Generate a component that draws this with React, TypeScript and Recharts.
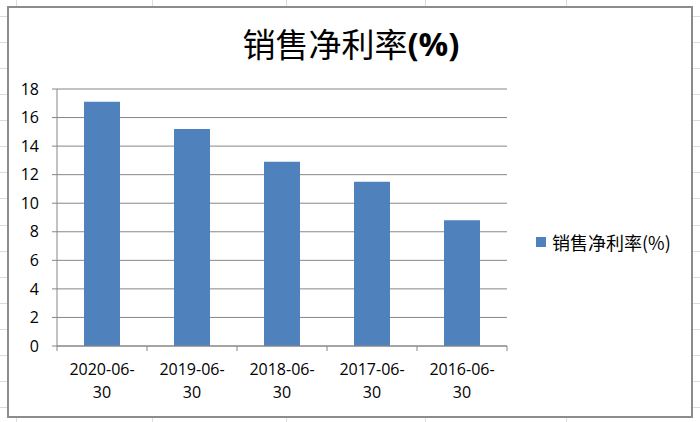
import React from 'react';
import { BarChart, Bar, XAxis, YAxis, CartesianGrid, Legend } from 'recharts';

const categories = ['2020-06-30', '2019-06-30', '2018-06-30', '2017-06-30', '2016-06-30'];
const values = [17.1, 15.2, 12.9, 11.5, 8.8];
const yTicks = [0, 2, 4, 6, 8, 10, 12, 14, 16, 18];
const seriesName = '销售净利率(%)';
const titleMain = '销售净利率';
const titleSuffix = '(%)';

const data = categories.map((c, i) => ({ date: c, value: values[i] }));

const sheetRows = Array.from({ length: 16 }, (_, i) => 16 + i * 26.07);
const sheetCols = [15.6, 152, 286, 425, 566];

const LATIN = '"Open Sans", "Noto Sans CJK SC", sans-serif';
const CJK = '"Noto Sans CJK SC", "Open Sans", sans-serif';

const XTick = (props: any) => {
  const { x, y, payload, index, visibleTicksCount, width } = props;
  const half = payload && typeof payload.offset === 'number' && payload.offset > 0
    ? payload.offset
    : width / visibleTicksCount / 2;
  const s: string = String(payload.value);
  const cut = s.lastIndexOf('-');
  const l1 = s.slice(0, cut + 1);
  const l2 = s.slice(cut + 1);
  return (
    <g transform={`translate(${x},${y})`}>
      <line x1={-half} y1={0} x2={-half} y2={5} stroke="#868686" strokeWidth={1} />
      {index === visibleTicksCount - 1 && (
        <line x1={half} y1={0} x2={half} y2={5} stroke="#868686" strokeWidth={1} />
      )}
      <text textAnchor="middle" fill="#000" fontSize={16} fontFamily={LATIN}>
        <tspan x={0} y={29}>{l1}</tspan>
        <tspan x={0} y={52}>{l2}</tspan>
      </text>
    </g>
  );
};

const LegendContent = () => (
  <div style={{ display: 'flex', alignItems: 'center', fontFamily: CJK, fontSize: 18, color: '#000', whiteSpace: 'nowrap' }}>
    <span style={{ display: 'inline-block', width: 10, height: 10, background: '#4f81bd', marginRight: 6 }} />
    <span>{seriesName}</span>
  </div>
);

export default function App() {
  return (
    <div style={{ position: 'absolute', left: 0, top: 0, width: 700, height: 422, background: '#fff', overflow: 'hidden' }}>
      {sheetRows.map((r, i) => (
        <div key={'r' + i} style={{ position: 'absolute', left: 0, top: Math.round(r), width: 700, height: 1, background: '#dadcdd' }} />
      ))}
      {sheetCols.map((c, i) => (
        <div key={'c' + i} style={{ position: 'absolute', top: 0, left: Math.round(c), width: 1, height: 422, background: '#dadcdd' }} />
      ))}
      <div style={{ position: 'absolute', left: 7, top: 6, width: 682, height: 408, background: '#fff', border: '2px solid #8c8c8c' }} />
      <div style={{ position: 'absolute', left: 0, top: 0 }}>
        <BarChart
          width={700}
          height={422}
          data={data}
          margin={{ top: 89, right: 43, bottom: 16, left: 0 }}
          barCategoryGap="30%"
        >
          <text x={351} y={43} textAnchor="middle" dominantBaseline="central" fill="#000">
            <tspan fontFamily={CJK} fontSize={33}>{titleMain}</tspan>
            <tspan fontFamily={LATIN} fontSize={33} fontWeight="bold">{titleSuffix}</tspan>
          </text>
          <CartesianGrid vertical={false} stroke="#868686" strokeWidth={1} />
          <XAxis
            dataKey="date"
            height={60}
            interval={0}
            tickSize={0}
            tickMargin={0}
            tickLine={false}
            axisLine={{ stroke: '#868686' }}
            tick={<XTick />}
          />
          <YAxis
            width={57}
            domain={[0, 18]}
            ticks={yTicks}
            interval={0}
            tickSize={5}
            tickMargin={13}
            tickLine={{ stroke: '#868686' }}
            axisLine={{ stroke: '#868686' }}
            tick={{ fill: '#000', fontSize: 16, fontFamily: LATIN }}
          />
          <Legend
            layout="vertical"
            align="right"
            verticalAlign="top"
            content={<LegendContent />}
            wrapperStyle={{ left: 536, top: 229, width: 150 }}
          />
          <Bar dataKey="value" name={seriesName} fill="#4f81bd" isAnimationActive={false} />
        </BarChart>
      </div>
    </div>
  );
}
